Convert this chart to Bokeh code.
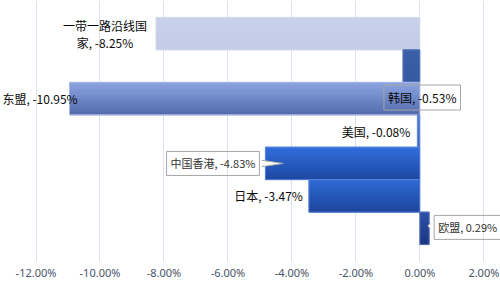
from bokeh.plotting import figure
from bokeh.models import Range1d, FixedTicker, PrintfTickFormatter, Label
from bokeh.embed import file_html
from bokeh.resources import INLINE

# Trade growth by partner (%), top to bottom
categories = ["一带一路沿线国家", "韩国", "东盟", "美国", "中国香港", "日本", "欧盟"]
values = [-8.25, -0.53, -10.95, -0.08, -4.83, -3.47, 0.29]
tick_values = [-12, -10, -8, -6, -4, -2, 0, 2]

# bar gradient colours (top shade, bottom shade)
shades = [
    ("#c9d1ea", "#c2cae6"),
    ("#3c60a8", "#365aa2"),
    ("#8aa3e0", "#566eae"),
    ("#4a78d6", "#3a62b8"),
    ("#306dda", "#1e4aa4"),
    ("#2e69d4", "#1d479e"),
    ("#2b50a8", "#1b3882"),
]
edge = ["#d6dcef", "#5a7cc0", "#a8b8e4", "#6f92dc", "#5b86e0", "#5b84dc", "#5670b8"]

FONT = "Noto Sans CJK SC"

p = figure(width=500, height=282, output_backend="svg", toolbar_location=None,
           x_range=Range1d(-13.11, 2.52), y_range=Range1d(-1.02, 7.02),
           min_border=0)
p.outline_line_color = None
p.background_fill_color = "white"
p.yaxis.visible = False
p.ygrid.grid_line_color = None
p.xgrid.grid_line_color = "#dde2ec"
p.xgrid.grid_line_width = 1

ax = p.xaxis[0]
ax.ticker = FixedTicker(ticks=tick_values)
ax.formatter = PrintfTickFormatter(format="%.2f%%")
ax.axis_line_color = None
ax.major_tick_line_color = None
ax.minor_tick_line_color = None
ax.major_tick_out = 0
ax.major_label_standoff = 3
ax.major_label_text_font = "Noto Sans"
ax.major_label_text_font_size = "11px"
ax.major_label_text_color = "#4a5468"


def mix(c1, c2, t):
    a = [int(c1[i:i + 2], 16) for i in (1, 3, 5)]
    b = [int(c2[i:i + 2], 16) for i in (1, 3, 5)]
    return "#" + "".join(f"{round(a[k] + (b[k] - a[k]) * t):02x}" for k in range(3))


n = len(categories)
ypos = [n - 1 - i for i in range(n)]
slices = 12
for i, v in enumerate(values):
    top, bot = shades[i]
    # base fill in the middle shade so no background shows between slices
    p.hbar(y=[ypos[i]], left=0, right=[v], height=1.0,
           fill_color=mix(top, bot, 0.5), line_color=None)
    for j in range(slices):
        yc = ypos[i] + 0.5 - (j + 0.5) / slices
        p.hbar(y=[yc], left=0, right=[v], height=1.0 / slices + 0.025,
               fill_color=mix(top, bot, j / (slices - 1)), line_color=None)
    p.hbar(y=[ypos[i]], left=0, right=[v], height=1.0, fill_alpha=0,
           line_color=edge[i], line_width=1)


def add_label(text, x, y, dx, dy, align, size="12px", color="#0a0a0a",
              boxed=False):
    lab = Label(x=x, y=y, x_offset=dx, y_offset=dy, text=text,
                text_align=align, text_baseline="middle",
                text_font=FONT, text_font_size=size, text_color=color)
    if boxed:
        lab.border_line_color = "#a6a6a6"
        lab.border_line_width = 1
        lab.padding = 4
    p.add_layout(lab)


lbl = [f"{c}, {v:.2f}%" for c, v in zip(categories, values)]

# 一带一路沿线国家 label over two lines, centred left of the bar
add_label(categories[0][:7], values[0], ypos[0], -51, 8, "center")
add_label(f"{categories[0][7:]}, {values[0]:.2f}%", values[0], ypos[0], -51, -9, "center")
# 韩国 (boxed, sits in the band below its bar)
add_label(lbl[1], values[1], ypos[1] - 1, -19, 1, "left", boxed=True)
# 东盟
add_label(lbl[2], values[2], ypos[2], 8, 0, "right")
# 美国
add_label(lbl[3], values[3], ypos[3], -7, 0, "right")
# 中国香港 (boxed callout)
add_label(lbl[4], values[4], ypos[4], -6, 0, "right", size="11px",
          color="#333333", boxed=True)
# 日本
add_label(lbl[5], values[5], ypos[5], -6, 0, "right")
# 欧盟 (boxed callout)
add_label(lbl[6], values[6], ypos[6], 5, 1, "left", size="11px",
          color="#333333", boxed=True)

# callout pointers
hk = values[4]
tri_x = [hk - 0.12, hk + 0.56, hk - 0.12]
tri_y = [ypos[4] + 0.1, ypos[4], ypos[4] - 0.1]
p.patch(tri_x, tri_y, fill_color="white", line_color=None, level="overlay")
p.line(tri_x, tri_y, line_color="#a6a6a6", line_width=1, level="overlay")

eu = values[6]
tri2_x = [eu + 0.04, eu - 0.04, eu + 0.04]
tri2_y = [ypos[6] + 0.16, ypos[6] + 0.08, ypos[6] - 0.02]
p.patch(tri2_x, tri2_y, fill_color="white", line_color=None, level="overlay")
p.line(tri2_x, tri2_y, line_color="#a6a6a6", line_width=1, level="overlay")

open("out.html", "w").write(file_html(p, INLINE))
